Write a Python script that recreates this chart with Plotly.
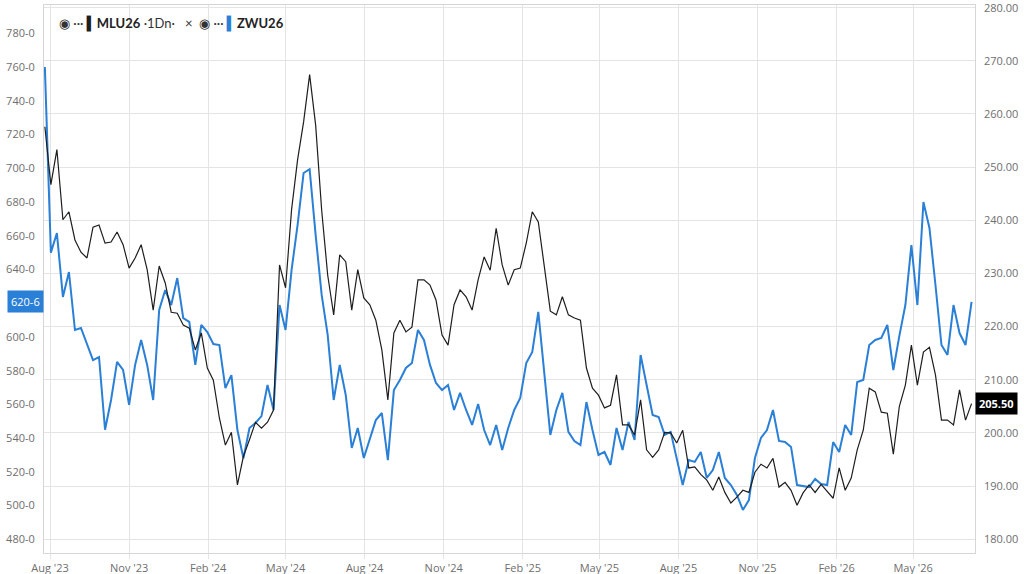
import pandas as pd
import plotly.graph_objects as go

# ---------------- data (weekly readings) ----------------
start_date = "2023-07-26"

zwu26 = [
    760.0, 650.0, 661.6, 623.7, 638.5, 604.1, 605.3, 595.2, 586.3, 588.1,
    545.0, 562.6, 585.2, 580.4, 559.7, 583.4, 598.2, 583.4, 562.6, 616.0,
    627.8, 618.9, 634.9, 611.2, 608.9, 583.4, 607.1, 602.9, 595.8, 595.2,
    569.7, 577.4, 544.8, 528.0, 546.0, 549.0, 553.1, 571.5, 556.7, 618.9,
    604.1, 639.7, 666.4, 697.2, 699.5, 660.4, 624.9, 601.2, 562.6, 583.4,
    565.6, 534.2, 546.0, 528.2, 538.9, 550.7, 554.9, 527.0, 568.5, 574.5,
    581.6, 584.5, 604.1, 598.2, 583.4, 572.7, 568.5, 571.5, 556.7, 566.8,
    556.7, 547.8, 560.2, 544.8, 535.9, 547.8, 533.0, 546.0, 556.7, 563.8,
    584.5, 591.1, 614.8, 577.4, 541.9, 556.7, 566.8, 543.7, 538.3, 535.9,
    561.4, 544.8, 530.0, 531.8, 524.1, 546.0, 533.0, 549.6, 538.9, 589.3,
    571.5, 553.7, 552.5, 541.9, 543.7, 528.8, 512.2, 527.0, 525.9, 531.8,
    516.4, 521.1, 531.8, 516.4, 512.2, 506.3, 497.4, 503.3, 528.2, 540.1,
    544.8, 556.7, 538.3, 537.7, 534.8, 512.2, 511.6, 511.0, 515.8, 512.8,
    512.2, 537.7, 531.8, 547.8, 541.9, 573.3, 574.5, 595.2, 598.2, 599.4,
    607.1, 580.4, 600.6, 618.9, 654.5, 618.9, 680.0, 664.6, 630.8, 595.2,
    589.3, 618.9, 602.3, 595.2, 620.75,
]

mlu26 = [
    257.6, 246.7, 253.3, 240.1, 241.6, 236.3, 234.0, 232.9, 238.7, 239.1,
    235.7, 235.9, 237.8, 235.4, 231.0, 232.9, 235.4, 230.7, 223.1, 231.4,
    228.2, 222.7, 222.5, 220.3, 219.7, 215.6, 218.8, 212.2, 209.9, 202.8,
    197.7, 200.1, 190.2, 195.6, 198.7, 202.0, 200.9, 202.0, 204.3, 231.6,
    227.3, 242.0, 251.4, 258.5, 267.4, 257.9, 241.9, 229.7, 222.2, 233.5,
    232.2, 223.1, 230.7, 225.4, 224.1, 221.2, 215.6, 206.2, 218.8, 221.2,
    219.0, 219.9, 228.8, 228.8, 227.8, 225.0, 218.4, 216.5, 224.1, 226.9,
    225.6, 223.1, 228.8, 233.1, 230.6, 238.5, 231.6, 227.8, 230.7, 231.0,
    235.7, 241.6, 239.7, 231.2, 222.9, 222.2, 225.6, 222.2, 221.6, 221.2,
    212.2, 208.4, 207.1, 204.7, 205.2, 210.9, 201.5, 201.5, 199.6, 206.2,
    196.8, 195.4, 196.8, 200.1, 200.0, 198.1, 200.5, 193.4, 193.6, 192.2,
    191.1, 189.2, 191.7, 188.8, 186.8, 187.9, 189.2, 188.8, 192.6, 194.1,
    193.4, 195.2, 189.8, 190.7, 189.2, 186.4, 188.7, 190.2, 188.8, 190.3,
    189.0, 187.7, 193.4, 189.2, 191.5, 196.8, 200.5, 208.4, 207.7, 203.9,
    203.7, 196.0, 205.0, 209.0, 216.5, 209.0, 215.2, 216.1, 210.9, 202.4,
    202.4, 201.5, 208.1, 202.4, 205.5,
]

# 620 is hidden behind the last-price tag in the reference
left_ticks = [480, 500, 520, 540, 560, 580, 600, 640, 660, 680, 700, 720, 740, 760, 780]
left_tick_text = [f"{v}-0" for v in left_ticks]
right_ticks = [180, 190, 200, 210, 220, 230, 240, 250, 260, 270, 280]
right_tick_text = [f"{v:.2f}" for v in right_ticks]

zwu_last_label = "620-6"
mlu_last_label = "205.50"

dates_zwu = pd.date_range(start_date, periods=len(zwu26), freq="7D")
dates_mlu = pd.date_range(start_date, periods=len(mlu26), freq="7D")

BLUE = "#2a7fd6"
BLACK = "#1e1e1e"
GRID = "#e4e4e4"
FRAME = "#d6d6d6"
TXT = "#6e6e6e"
FONT = "Open Sans"

fig = go.Figure()
fig.add_trace(go.Scatter(x=dates_mlu, y=mlu26, mode="lines", name="MLU26",
                         line=dict(color=BLACK, width=1.2), yaxis="y2"))
fig.add_trace(go.Scatter(x=dates_zwu, y=zwu26, mode="lines", name="ZWU26",
                         line=dict(color=BLUE, width=2.0), yaxis="y"))

fig.update_layout(
    width=1024, height=574, autosize=False,
    margin=dict(l=44, r=49, t=5, b=21),
    paper_bgcolor="white", plot_bgcolor="white",
    showlegend=False,
    font=dict(family=FONT, size=11, color=TXT),
    xaxis=dict(
        type="date",
        range=["2023-07-25", "2026-07-12"],
        tickvals=pd.date_range("2023-08-01", "2026-05-01", freq="3MS"),
        tickformat="%b '%y",
        showgrid=True, gridcolor=GRID, gridwidth=1,
        showline=True, linecolor=FRAME, linewidth=1, mirror=True,
        ticks="outside", ticklen=5, tickcolor=GRID,
        tickfont=dict(family=FONT, size=11, color=TXT),
        zeroline=False, automargin=False,
    ),
    yaxis=dict(
        range=[471.9, 796.8],
        tickvals=left_ticks, ticktext=left_tick_text,
        showgrid=False, zeroline=False,
        showline=True, linecolor=FRAME, linewidth=1, mirror=True,
        ticks="", ticklabelstandoff=6,
        tickfont=dict(family=FONT, size=11, color=TXT),
        automargin=False,
    ),
    yaxis2=dict(
        range=[177.4, 280.5],
        overlaying="y", side="right",
        tickvals=right_ticks, ticktext=right_tick_text,
        showgrid=True, gridcolor=GRID, gridwidth=1,
        zeroline=False, showline=False,
        ticks="", ticklabelstandoff=8, ticklabeloverflow="allow",
        tickfont=dict(family=FONT, size=11, color=TXT),
        automargin=False,
    ),
)

# legend-like header (top-left)
legend_text = (
    "<span style='color:#333'>◉ ···</span> "
    f"<span style='color:{BLACK}'><b>▍</b></span><b>MLU26</b>"
    "<span style='color:#333'> ·1Dn·</span>"
    "<span style='color:#333'>   ×  ◉ ···</span> "
    f"<span style='color:{BLUE}'><b>▍</b></span><b>ZWU26</b>"
)
fig.add_annotation(
    xref="paper", yref="paper", x=0.014, y=0.985, xanchor="left", yanchor="top",
    text=legend_text, showarrow=False,
    font=dict(family="Lato", size=13, color="#222"),
)

# last-price tags
fig.add_annotation(
    xref="paper", yref="y", x=0, y=zwu26[-1], xanchor="right", yanchor="middle",
    text=zwu_last_label, showarrow=False, bgcolor=BLUE, borderpad=3,
    font=dict(family=FONT, size=11, color="white"),
)
fig.add_annotation(
    xref="paper", yref="y2", x=1, y=mlu26[-1], xanchor="left", yanchor="middle",
    text=f"<b>{mlu_last_label}</b>", showarrow=False, bgcolor="black", borderpad=3,
    font=dict(family=FONT, size=11, color="white"),
)

fig.write_html("out.html")
